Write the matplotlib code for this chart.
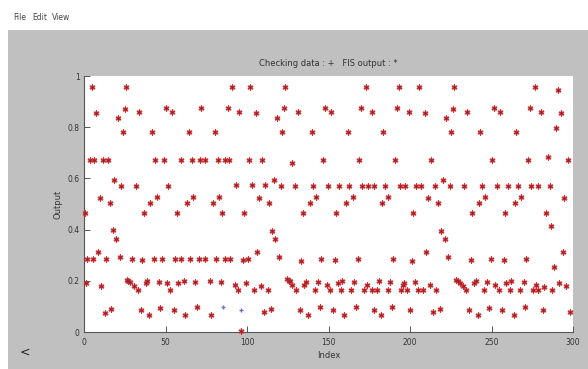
import matplotlib
matplotlib.use("Agg")
import matplotlib.pyplot as plt
from matplotlib.patches import Rectangle

# FIS output (red *)
fis_index = [0.4,1.2,2.1,3.7,4.7,5.4,6.4,7.4,8.8,9.7,10.5,11.5,12.6,13.6,15,16.1,16.7,17.7,18.7,19.7,
             20.8,21.8,22.8,23.9,24.9,25.7,26.6,27.3,28.2,29.6,30.5,31.7,33,33.7,34.8,35.8,36.6,37.9,38.7,39.9,
             40.7,42,43,43.8,45,46,46.9,48,49,50,51,51.6,52.7,53.7,55.1,55.6,56.8,57.8,59.3,59.3,
             61.1,62.1,63.2,64.2,65.2,66.3,67.1,68.1,69.3,70.4,71,72,74,74.5,77.2,78.2,79,80.1,81.1,82.1,
             83.1,84.2,84.9,86.4,86.8,88.3,88.9,89.5,90.9,92.4,93.4,94.5,95.3,96.3,97.5,98.4,99.4,100.6,101,101.9,
             103.1,104.3,105.3,106.4,107.2,108.4,109.3,110.5,111.3,112.6,113.4,114.6,115.4,116.3,117.3,118.3,
             119.5,120.6,121.6,122.6,123.6,124.7,125.5,126.3,127.4,127.8,129.4,130.3,131.5,132.5,133.3,134.4,135,136,
             137.4,138.5,139.7,140.5,141.6,142.6,143.6,144.7,145.7,146.7,147.7,149,149.8,150.8,151.4,152.5,153.9,
             154.5,155.6,156.6,157.6,158.2,159.7,160.7,161.7,162.8,163.8,164.8,165.8,166.9,167.9,169,169.8,170.6,
             172,173,173.7,174.5,176.7,176.7,177.8,178.2,179.8,
             181.1,182.1,182.7,183.7,184.6,186.2,186.8,187.9,189,189.7,190.7,192,193,193.8,194.4,195.5,196.5,
             197.2,197.9,199.2,200.2,201.1,201.6,203.1,203.7,204.7,205.8,206.8,207.8,209.1,210.1,210.9,212,212.9,
             214,215.2,216.1,217.2,218.1,219.2,220.2,221.2,222.2,223.3,224.3,225.3,226.3,227,228.4,229.3,230.9,
             232.5,233.1,234.2,235,236.2,237.3,238.3,239.3,
             240.5,241.6,242.2,243.2,244.2,245.3,246.3,247.3,248.3,249.4,250.4,251.5,252.3,253.1,254.3,255,256.4,
             257.4,258,259.1,260.1,261.1,262.2,263.6,264.2,265.2,266.3,267.3,268.3,269.8,270.4,271.4,272.4,273.5,
             274.5,275.5,276.5,277.6,278.6,278.6,280.5,281.4,282.3,283.3,284.4,285.8,286.4,287.4,288.5,289.5,
             290.5,291.5,292.8,293.6,294.6,295.6,296.7,298.3]
fis_output = [0.464,0.193,0.284,0.672,0.958,0.284,0.672,0.857,0.314,0.525,0.18,0.67,0.075,0.284,0.672,0.503,0.089,0.398,0.594,0.363,
              0.835,0.292,0.572,0.78,0.871,0.958,0.205,0.2,0.195,0.284,0.18,0.572,0.164,0.861,0.086,0.281,0.464,0.193,0.2,0.066,
              0.503,0.78,0.284,0.672,0.526,0.197,0.095,0.284,0.672,0.874,0.19,0.572,0.164,0.861,0.086,0.284,0.464,0.193,0.672,0.284,
              0.2,0.066,0.503,0.78,0.284,0.672,0.526,0.195,0.096,0.284,0.672,0.874,0.284,0.672,0.2,0.066,0.503,0.78,0.284,0.672,
              0.526,0.195,0.464,0.284,0.672,0.874,0.672,0.284,0.958,0.184,0.574,0.164,0.861,0.005,0.28,0.464,0.193,0.284,0.672,0.958,
              0.574,0.164,0.857,0.314,0.525,0.18,0.67,0.077,0.574,0.164,0.503,0.089,0.396,0.594,0.363,0.835,
              0.292,0.572,0.78,0.874,0.958,0.206,0.2,0.2,0.661,0.184,0.572,0.164,0.861,0.086,0.279,0.464,0.184,0.197,
              0.066,0.503,0.78,0.572,0.164,0.526,0.197,0.096,0.284,0.672,0.874,0.184,0.572,0.164,0.861,0.086,0.281,
              0.464,0.193,0.572,0.164,0.2,0.066,0.503,0.78,0.572,0.164,0.526,0.197,0.096,0.284,0.672,0.874,0.572,
              0.164,0.958,0.184,0.572,0.861,0.164,0.086,0.572,0.164,
              0.2,0.066,0.503,0.78,0.572,0.164,0.526,0.195,0.096,0.284,0.672,0.874,0.958,0.572,0.164,0.184,0.193,
              0.572,0.164,0.861,0.086,0.279,0.464,0.195,0.572,0.164,0.958,0.572,0.164,0.857,0.314,0.525,0.184,0.672,
              0.077,0.572,0.164,0.503,0.089,0.396,0.594,0.363,0.835,0.292,0.572,0.78,0.871,0.958,0.205,0.2,0.19,
              0.18,0.572,0.164,0.861,0.086,0.281,0.464,0.19,
              0.2,0.066,0.503,0.78,0.572,0.164,0.526,0.195,0.095,0.284,0.672,0.874,0.184,0.572,0.164,0.861,0.086,
              0.281,0.464,0.19,0.572,0.164,0.2,0.066,0.503,0.78,0.572,0.164,0.526,0.195,0.096,0.284,0.672,0.874,
              0.572,0.164,0.958,0.184,0.572,0.164,0.861,0.086,0.177,0.464,0.685,0.572,0.415,0.164,0.253,0.796,
              0.945,0.193,0.857,0.311,0.525,0.18,0.67,0.077]

# Checking data (blue +), visible where it differs from the FIS output
check_index = [85.2, 96.3]
check_output = [0.098, 0.086]

title_text = "Checking data : +   FIS output : *"
x_ticks = [0, 50, 100, 150, 200, 250, 300]
y_ticks = [0, 0.2, 0.4, 0.6, 0.8, 1]
y_ticklabels = ["0", "0.2", "0.4", "0.6", "0.8", "1"]

W, H = 588, 369
fig = plt.figure(figsize=(W / 100, H / 100), dpi=100, facecolor="white")
fig.add_artist(Rectangle((8 / W, 0), 580 / W, 339 / H, transform=fig.transFigure,
                         facecolor="#c0c0c0", edgecolor="none", zorder=0))
for txt, x in [("File", 13), ("Edit", 32), ("View", 52)]:
    fig.text(x / W, 1 - 17 / H, txt, fontsize=5.5, color="#444444", va="center", ha="left")
fig.text(25 / W, 1 - 352 / H, "<", fontsize=9, color="#222222", va="center", ha="center")

ax = fig.add_axes([84 / W, 37 / H, 489 / W, 256 / H])
ax.set_facecolor("white")
ax.scatter(check_index, check_output, marker="+", s=12, color="#6677bb", linewidths=1.0,
           zorder=3, clip_on=False)
ax.scatter(fis_index, fis_output, marker=(6, 2, 0), s=12, color="#d42a2a", linewidths=1.0,
           zorder=4, clip_on=False)
ax.scatter(fis_index, fis_output, marker="o", s=2.5, color="#7a2a3a", linewidths=0,
           zorder=5, clip_on=False)
ax.set_xlim(0, 300)
ax.set_ylim(0, 1)
ax.set_xticks(x_ticks)
ax.set_yticks(y_ticks)
ax.set_yticklabels(y_ticklabels)
for s in ["top", "right"]:
    ax.spines[s].set_visible(False)
for s in ["left", "bottom"]:
    ax.spines[s].set_color("#555555")
    ax.spines[s].set_linewidth(0.8)
ax.tick_params(direction="in", length=4, width=0.7, color="#555555", labelsize=5.5,
               labelcolor="#333333")
ax.tick_params(axis="x", pad=4)
ax.tick_params(axis="y", pad=3)
ax.set_title(title_text, fontsize=6, color="#333333", pad=7)
ax.set_xlabel("Index", fontsize=6, color="#333333", labelpad=3)
ax.set_ylabel("Output", fontsize=6, color="#333333", labelpad=4)

fig.savefig("out.png", dpi=100, facecolor="white")
